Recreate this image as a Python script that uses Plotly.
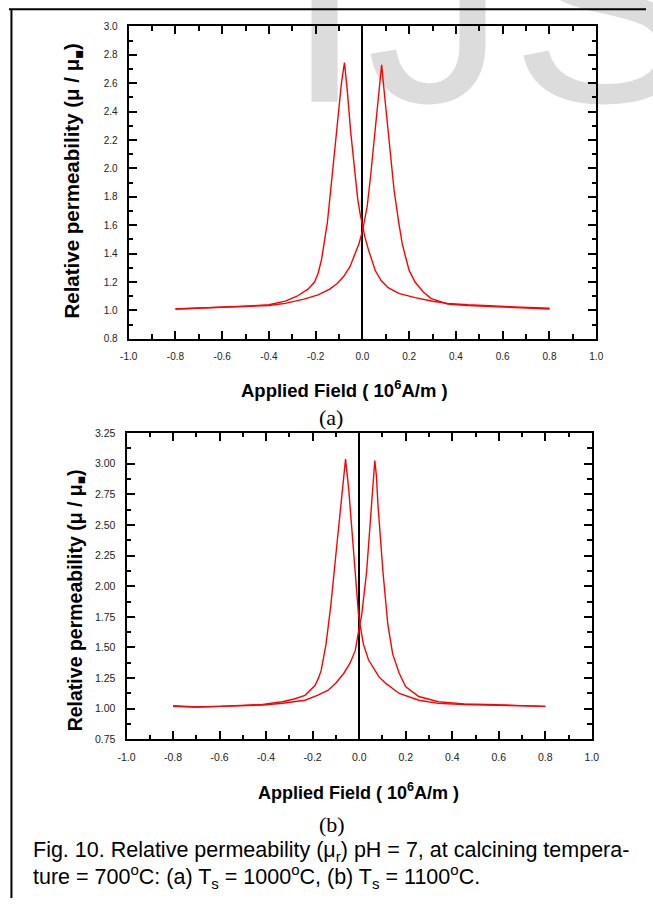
import plotly.graph_objects as go

# ---------------- data ----------------
# panel (a): Ts = 1000 C  -- branch peaking at negative field
a_field_peak_neg = [-0.80, -0.70, -0.60, -0.50, -0.40, -0.33, -0.28, -0.233, -0.205, -0.19, -0.175,
                    -0.16, -0.15, -0.129, -0.108, -0.09, -0.077, -0.065, -0.05, -0.035, -0.02, -0.01,
                    0.0, 0.01, 0.025, 0.04, 0.055, 0.08, 0.11, 0.155, 0.225, 0.30, 0.364, 0.45, 0.55,
                    0.65, 0.80]
a_mu_peak_neg = [1.01, 1.015, 1.02, 1.03, 1.04, 1.065, 1.10, 1.15, 1.20, 1.26, 1.36,
                 1.50, 1.62, 1.96, 2.31, 2.60, 2.745, 2.55, 2.25, 2.00, 1.78, 1.68,
                 1.60, 1.52, 1.43, 1.35, 1.28, 1.21, 1.16, 1.12, 1.09, 1.065, 1.05, 1.04, 1.03,
                 1.025, 1.015]
# panel (a): branch peaking at positive field
a_field_peak_pos = [-0.80, -0.70, -0.60, -0.50, -0.40, -0.33, -0.25, -0.19, -0.14, -0.108, -0.08,
                    -0.053, -0.03, -0.015, 0.0, 0.01, 0.02, 0.035, 0.05, 0.065, 0.075, 0.082, 0.093,
                    0.114, 0.135, 0.155, 0.17, 0.183, 0.20, 0.225, 0.26, 0.294, 0.364, 0.45, 0.55,
                    0.65, 0.80]
a_mu_peak_pos = [1.01, 1.015, 1.02, 1.025, 1.035, 1.05, 1.08, 1.11, 1.15, 1.19, 1.24,
                 1.31, 1.40, 1.47, 1.56, 1.64, 1.73, 1.95, 2.20, 2.50, 2.65, 2.73, 2.54,
                 2.19, 1.85, 1.62, 1.47, 1.385, 1.28, 1.20, 1.13, 1.083, 1.045, 1.035, 1.03,
                 1.02, 1.01]

# panel (b): Ts = 1100 C  -- branch peaking at negative field
b_field_peak_neg = [-0.80, -0.70, -0.60, -0.50, -0.415, -0.33, -0.28, -0.233, -0.19, -0.175, -0.1635,
                    -0.1426, -0.1216, -0.1006, -0.08, -0.068, -0.0587, -0.045, -0.024, -0.003, 0.0,
                    0.018, 0.04, 0.06, 0.085, 0.116, 0.172, 0.256, 0.34, 0.45, 0.55, 0.65, 0.80]
b_mu_peak_neg = [1.025, 1.015, 1.02, 1.025, 1.035, 1.057, 1.08, 1.11, 1.19, 1.25, 1.313,
                 1.527, 1.85, 2.25, 2.654, 2.90, 3.036, 2.79, 2.25, 1.77, 1.73,
                 1.527, 1.40, 1.34, 1.26, 1.205, 1.125, 1.07, 1.044, 1.035, 1.03, 1.025, 1.02]
# panel (b): branch peaking at positive field
b_field_peak_pos = [-0.80, -0.70, -0.60, -0.50, -0.415, -0.33, -0.233, -0.18, -0.135, -0.10, -0.066,
                    -0.04, -0.017, 0.0, 0.011, 0.032, 0.053, 0.06, 0.067, 0.074, 0.081, 0.102,
                    0.123, 0.144, 0.172, 0.20, 0.256, 0.34, 0.45, 0.55, 0.65, 0.80]
b_mu_peak_pos = [1.02, 1.015, 1.02, 1.025, 1.03, 1.045, 1.07, 1.11, 1.15, 1.21, 1.29,
                 1.37, 1.474, 1.66, 1.77, 2.12, 2.654, 2.85, 3.025, 2.90, 2.654, 2.12,
                 1.688, 1.446, 1.29, 1.18, 1.10, 1.057, 1.04, 1.035, 1.03, 1.02]

# tick labels
x_tick_labels = ["-1.0", "-0.8", "-0.6", "-0.4", "-0.2", "0.0", "0.2", "0.4", "0.6", "0.8", "1.0"]
a_y_tick_labels = ["0.8", "1.0", "1.2", "1.4", "1.6", "1.8", "2.0", "2.2", "2.4", "2.6", "2.8", "3.0"]
b_y_tick_labels = ["0.75", "1.00", "1.25", "1.50", "1.75", "2.00", "2.25", "2.50", "2.75", "3.00", "3.25"]

# ---------------- layout helpers ----------------
W, H = 653, 904


def px_x(p):
    return p / W


def px_y(p):
    return 1 - p / H


SANS = "Liberation Sans, Arial, sans-serif"
SERIF = "Liberation Serif, Times New Roman, serif"

fig = go.Figure()

# watermark (drawn in a background subplot covering the page, pixel units)
wm_letters = ["I", "J", "S"]
wm_x = [323.5, 438, 610]
wm_y = [26, 26, 26]
fig.add_trace(go.Scatter(x=wm_x, y=wm_y, text=wm_letters, mode="text", textposition="middle center",
                         textfont=dict(family=SANS, size=280, color="#dcdcdc"),
                         xaxis="x", yaxis="y", hoverinfo="skip", showlegend=False, cliponaxis=False))

red = dict(color="#ff0000", width=1.4)
for xs, ys, xa, ya in [(a_field_peak_neg, a_mu_peak_neg, "x2", "y2"),
                       (a_field_peak_pos, a_mu_peak_pos, "x2", "y2"),
                       (b_field_peak_neg, b_mu_peak_neg, "x3", "y3"),
                       (b_field_peak_pos, b_mu_peak_pos, "x3", "y3")]:
    fig.add_trace(go.Scatter(x=xs, y=ys, mode="lines", line=red, xaxis=xa, yaxis=ya,
                             showlegend=False, hoverinfo="skip"))


def axis_style(labels, rng, domain, anchor, minor_tick0, minor_dtick, fs, zero=False):
    return dict(domain=domain, range=rng, anchor=anchor,
                tickmode="array", tickvals=[float(t) for t in labels], ticktext=labels,
                ticks="inside", ticklen=8, tickwidth=2, tickcolor="black",
                minor=dict(ticks="inside", ticklen=4.5, tickwidth=2, tickcolor="black",
                           tick0=minor_tick0, dtick=minor_dtick),
                showline=True, linewidth=2, linecolor="black", mirror="ticks",
                showgrid=False, zeroline=zero, zerolinecolor="black", zerolinewidth=2,
                tickfont=dict(family=SANS, size=fs, color="#222222"),
                ticklabelstandoff=7, fixedrange=True)


a_x_dom = [px_x(122.7), px_x(602)]
a_y_dom = [px_y(337.3), px_y(20.7)]
b_x_dom = [px_x(120.5), px_x(597.5)]
b_y_dom = [px_y(743.3), px_y(432.7)]

fig.update_layout(
    width=W, height=H, margin=dict(l=0, r=0, t=0, b=0),
    paper_bgcolor="white", plot_bgcolor="rgba(0,0,0,0)",
    showlegend=False,
    xaxis=dict(domain=[0, 1], range=[0, W], visible=False, fixedrange=True),
    yaxis=dict(domain=[0, 1], range=[H, 0], visible=False, fixedrange=True),
    xaxis2=axis_style(x_tick_labels, [-1, 1], a_x_dom, "y2", -1, 0.1, 10, zero=True),
    yaxis2=axis_style(a_y_tick_labels, [0.8, 3.0], a_y_dom, "x2", 0.8, 0.1, 10),
    xaxis3=axis_style(x_tick_labels, [-1, 1], b_x_dom, "y3", -1, 0.1, 10.5, zero=True),
    yaxis3=axis_style(b_y_tick_labels, [0.75, 3.25], b_y_dom, "x3", 0.75, 0.125, 10.5),
)

ann = []
ann.append(dict(text="<b>Relative permeability (μ / μ<sub>■</sub>)</b>", x=px_x(66), y=px_y(177.5),
                textangle=-90, font=dict(family=SANS, size=20.5, color="black")))
ann.append(dict(text="<b>Relative permeability (μ / μ<sub>■</sub>)</b>", x=px_x(69), y=px_y(602),
                textangle=-90, font=dict(family=SANS, size=19.5, color="black")))
ann.append(dict(text="<b>Applied Field ( 10<sup>6</sup>A/m )</b>", x=px_x(344), y=px_y(388),
                font=dict(family=SANS, size=18.5, color="black")))
ann.append(dict(text="<b>Applied Field ( 10<sup>6</sup>A/m )</b>", x=px_x(358), y=px_y(796),
                font=dict(family=SANS, size=18, color="black")))
ann.append(dict(text="(a)", x=px_x(330), y=px_y(416.6), font=dict(family=SERIF, size=22, color="black")))
ann.append(dict(text="(b)", x=px_x(331), y=px_y(830), font=dict(family=SERIF, size=22, color="black")))
ann.append(dict(text="Fig. 10. Relative permeability (μ<sub>r</sub>) pH = 7, at calcining tempera-",
                x=px_x(23), y=px_y(857), xanchor="left",
                font=dict(family=SANS, size=21.5, color="black")))
ann.append(dict(text="ture = 700<sup>o</sup>C: (a) T<sub>s</sub> = 1000<sup>o</sup>C, (b) T<sub>s</sub> = 1100<sup>o</sup>C.",
                x=px_x(23), y=px_y(882), xanchor="left",
                font=dict(family=SANS, size=21.5, color="black")))
for a in ann:
    a.setdefault("xanchor", "center")
    a.update(xref="paper", yref="paper", yanchor="middle", showarrow=False)
fig.update_layout(annotations=ann)

# page frame (top and left rules)
fig.add_shape(type="line", xref="paper", yref="paper", x0=0, x1=1, y0=px_y(3.3), y1=px_y(3.3),
              line=dict(color="black", width=2))
fig.add_shape(type="line", xref="paper", yref="paper", x0=px_x(2.5), x1=px_x(2.5), y0=0, y1=px_y(3.3),
              line=dict(color="black", width=2))

fig.write_html("out.html")
